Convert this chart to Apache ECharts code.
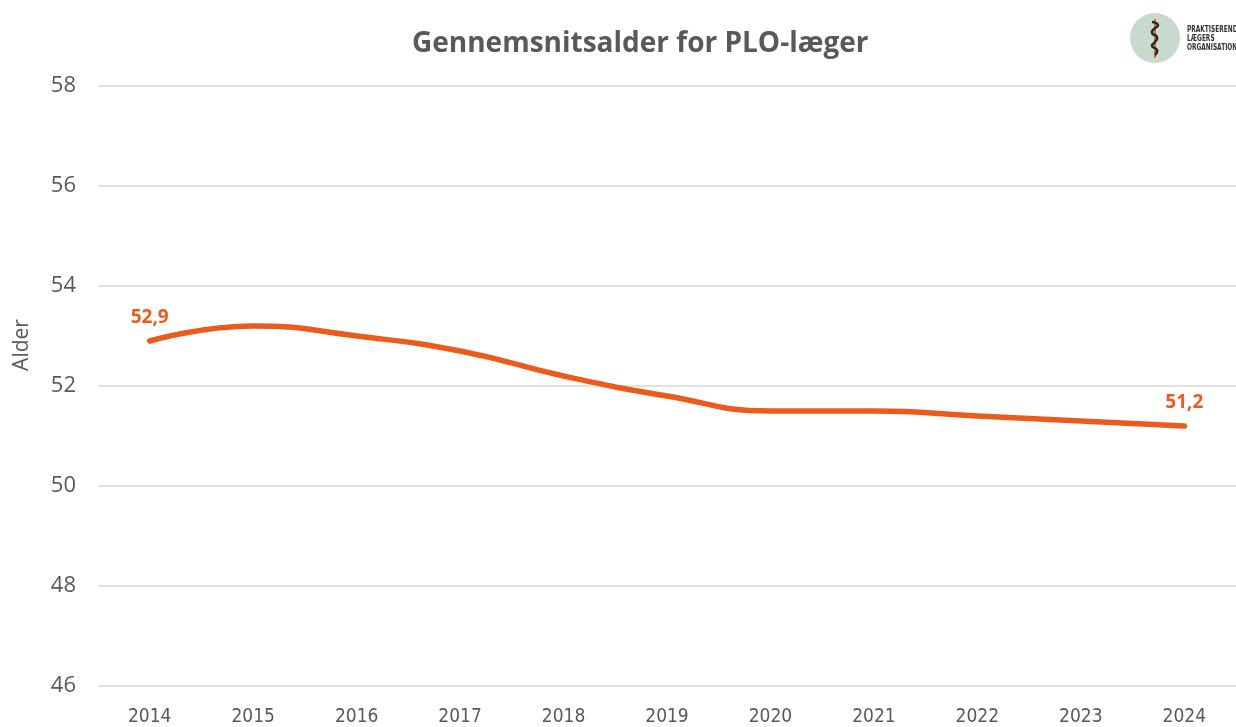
<!DOCTYPE html>
<html>
<head>
<meta charset="utf-8">
<script src="https://cdn.jsdelivr.net/npm/echarts@6/dist/echarts.min.js"></script>
<style>
  html, body { margin: 0; padding: 0; background: #fff; }
  #chart { width: 1236px; height: 727px; }
</style>
</head>
<body>
<div id="chart"></div>
<script>
// data
var years = ['2014', '2015', '2016', '2017', '2018', '2019', '2020', '2021', '2022', '2023', '2024'];
var avgAge = [52.9, 53.2, 53.0, 52.7, 52.2, 51.8, 51.5, 51.5, 51.4, 51.3, 51.2];
var yMin = 46, yMax = 58, yStep = 2;

var orange = '#ec5a1c';
var grey = '#595959';

// only first and last point carry a label
var lineData = avgAge.map(function (v, i) {
    var edge = (i === 0 || i === avgAge.length - 1);
    return { value: v, label: { show: edge } };
});

var chart = echarts.init(document.getElementById('chart'));

chart.setOption({
    animation: false,
    title: {
        text: 'Gennemsnitsalder for PLO-læger',
        left: 407,
        top: 25,
        textStyle: {
            fontFamily: 'Open Sans',
            fontWeight: 'bold',
            fontSize: 28,
            color: grey
        }
    },
    grid: {
        left: 98,
        right: -3,
        top: 86,
        bottom: 41
    },
    xAxis: {
        type: 'category',
        data: years,
        boundaryGap: true,
        axisLine: { show: false },
        axisTick: { show: false },
        axisLabel: {
            margin: 22,
            fontFamily: 'DejaVu Sans Condensed',
            fontSize: 19,
            color: grey
        }
    },
    yAxis: {
        type: 'value',
        min: yMin,
        max: yMax,
        interval: yStep,
        axisLine: { show: false },
        axisTick: { show: false },
        axisLabel: {
            margin: 22,
            fontFamily: 'Open Sans',
            fontSize: 22,
            color: grey
        },
        splitLine: {
            lineStyle: { color: '#d9d9d9', width: 1.5 }
        }
    },
    series: [{
        type: 'line',
        data: lineData,
        smooth: 0.5,
        symbol: 'circle',
        symbolSize: 1,
        showSymbol: true,
        itemStyle: { color: orange },
        lineStyle: { color: orange, width: 5.5, cap: 'round' },
        label: {
            position: 'top',
            distance: 13,
            fontFamily: 'Open Sans',
            fontWeight: 'bold',
            fontSize: 19,
            color: orange,
            formatter: function (p) {
                return String(p.value).replace('.', ',');
            }
        }
    }],
    graphic: [
        // axis title, placed like the original (above the plot's middle)
        {
            type: 'text',
            x: 22,
            y: 345,
            rotation: Math.PI / 2,
            style: {
                text: 'Alder',
                font: '21px "Open Sans"',
                fill: grey,
                align: 'center',
                verticalAlign: 'middle'
            }
        },
        // logo
        {
            type: 'circle',
            shape: { cx: 1155, cy: 38, r: 25 },
            style: { fill: '#c7dacd' }
        },
        {
            type: 'line',
            shape: { x1: 1155, y1: 19, x2: 1155, y2: 58 },
            style: { stroke: '#e2662d', lineWidth: 2 }
        },
        {
            type: 'polyline',
            shape: {
                points: [[1152, 22], [1158, 25], [1154, 29], [1152, 33], [1157, 37], [1155, 42], [1152, 46], [1157, 50], [1155, 55]],
                smooth: 0.6
            },
            style: { stroke: '#262626', lineWidth: 2.5, fill: null }
        },
        {
            type: 'text',
            x: 1187,
            y: 25,
            scaleX: 0.65,
            style: {
                text: 'PRAKTISEREND\nLÆGERS\nORGANISATION',
                font: 'bold 9px "DejaVu Sans"',
                lineHeight: 9,
                fill: '#333333'
            }
        }
    ]
});
</script>
</body>
</html>
